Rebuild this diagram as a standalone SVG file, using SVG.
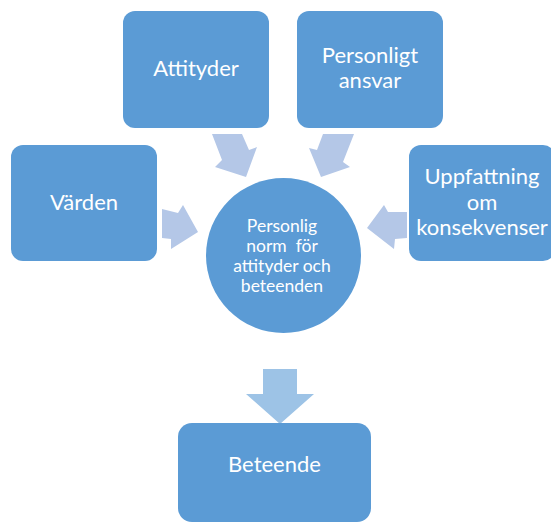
<svg xmlns="http://www.w3.org/2000/svg" width="551" height="524" viewBox="0 0 551 524">
<style>
.box{fill:#5B9BD5;}
.arr{fill:#B4C7E7;}
.darr{fill:#9DC3E6;}
.t{font-family:Lato,"Open Sans","Liberation Sans",sans-serif;fill:#FFFFFF;text-anchor:middle;font-size:22px;}
.ts{font-size:17.5px;}
</style>
<rect width="551" height="524" fill="#FFFFFF"/>
<g id="connectors">
<polygon class="arr" points="212,134 242,134 249,150 257,147 246,177 215,167 222,160"/>
<polygon class="arr" points="323,134 354,134 343,162 350,167 321,177 309,148 317,150"/>
<polygon class="arr" points="162,209 178,213 183,205 198,232 171,249 171,239 162,238"/>
<polygon class="arr" points="407,212 388,212 384,205 367,228 394,249 395,239 407,238"/>
<polygon class="darr" points="263,369 297,369 297,394 314,394 280,424 246,394 263,394"/>
</g>
<g id="attityder">
<rect class="box" x="123" y="11" width="146" height="117" rx="12"/>
<text class="t" x="196" y="76">Attityder</text>
</g>
<g id="personligt-ansvar">
<rect class="box" x="297" y="11" width="146" height="117" rx="12"/>
<text class="t" x="370" y="63">Personligt</text>
<text class="t" x="370" y="88">ansvar</text>
</g>
<g id="varden">
<rect class="box" x="11" y="145" width="146" height="116" rx="12"/>
<text class="t" x="84" y="210">Värden</text>
</g>
<g id="uppfattning">
<rect class="box" x="409" y="145" width="146" height="116" rx="12"/>
<text class="t" x="482" y="184">Uppfattning</text>
<text class="t" x="482" y="210">om</text>
<text class="t" x="482" y="235">konsekvenser</text>
</g>
<g id="norm">
<circle class="box" cx="283.5" cy="255.5" r="77.5"/>
<text class="t ts" x="282" y="232">Personlig</text>
<text class="t ts" x="282" y="252" xml:space="preserve">norm  för</text>
<text class="t ts" x="282" y="272">attityder och</text>
<text class="t ts" x="282" y="292">beteenden</text>
</g>
<g id="beteende">
<rect class="box" x="178" y="423" width="193" height="99" rx="14"/>
<text class="t" x="274.5" y="472">Beteende</text>
</g>
</svg>
